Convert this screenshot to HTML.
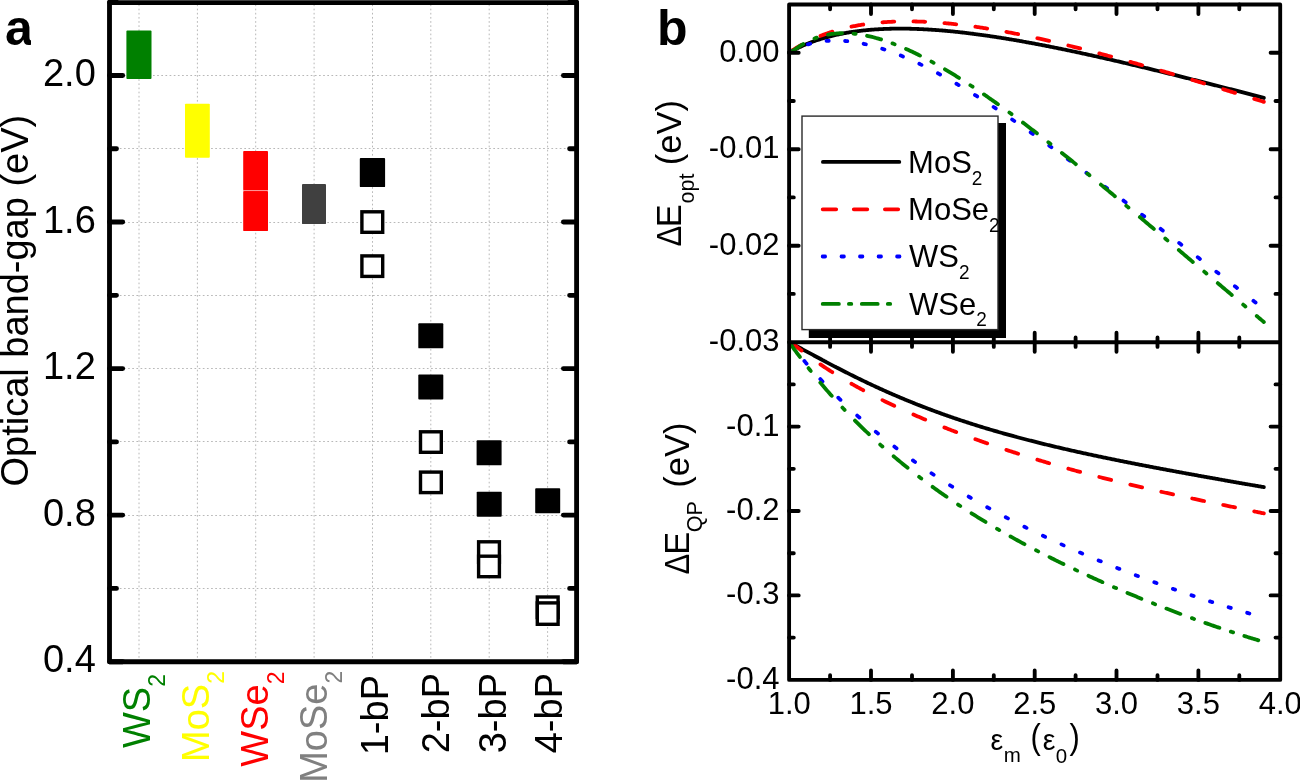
<!DOCTYPE html>
<html><head><meta charset="utf-8"><style>
html,body{margin:0;padding:0;background:#fff;}
svg{display:block;will-change:transform;}
text{font-family:"Liberation Sans",sans-serif;}
</style></head><body>
<svg width="1300" height="780" viewBox="0 0 1300 780" font-family="Liberation Sans, sans-serif">
<rect width="1300" height="780" fill="#fff"/>
<path d="M139.0,4.5V659.7 M197.4,4.5V659.7 M255.7,4.5V659.7 M314.1,4.5V659.7 M372.5,4.5V659.7 M430.8,4.5V659.7 M489.2,4.5V659.7 M547.6,4.5V659.7 M111.5,75.5H574.6 M111.5,148.5H574.6 M111.5,222.5H574.6 M111.5,295.5H574.6 M111.5,368.5H574.6 M111.5,441.5H574.6 M111.5,515.5H574.6 M111.5,588.5H574.6" stroke="#b8b8b8" stroke-width="1" stroke-dasharray="1.7 2.45" fill="none"/>
<rect x="126.4" y="30.5" width="25.1" height="48.5" rx="0.9" fill="#008000"/>
<rect x="185.0" y="103.7" width="24.8" height="54.0" rx="0.9" fill="#ffff00"/>
<rect x="243.2" y="150.9" width="24.8" height="39.4" rx="0.9" fill="#ff0000"/>
<rect x="243.2" y="190.9" width="24.8" height="40.2" rx="0.9" fill="#ff0000"/>
<line x1="243.2" x2="268" y1="190.6" y2="190.6" stroke="#ff8080" stroke-width="0.8"/>
<rect x="302.0" y="184.1" width="24.0" height="40.0" rx="0.9" fill="#404040"/>
<rect x="359.8" y="158.1" width="25.3" height="29.0" rx="0.9" fill="#000"/>
<rect x="361.9" y="211.8" width="20.8" height="20.5" fill="#fff" stroke="#000" stroke-width="3.4"/>
<rect x="361.9" y="255.9" width="20.8" height="20.5" fill="#fff" stroke="#000" stroke-width="3.4"/>
<rect x="418.3" y="323.3" width="25.0" height="25.0" rx="0.9" fill="#000"/>
<rect x="418.3" y="374.5" width="25.0" height="25.0" rx="0.9" fill="#000"/>
<rect x="420.5" y="431.8" width="20.8" height="20.5" fill="#fff" stroke="#000" stroke-width="3.4"/>
<rect x="420.5" y="472.1" width="20.8" height="20.5" fill="#fff" stroke="#000" stroke-width="3.4"/>
<rect x="476.6" y="440.3" width="25.0" height="25.0" rx="0.9" fill="#000"/>
<rect x="476.7" y="491.7" width="25.0" height="25.0" rx="0.9" fill="#000"/>
<rect x="478.6" y="541.8" width="20.8" height="20.5" fill="#fff" stroke="#000" stroke-width="3.4"/>
<rect x="478.6" y="556.2" width="20.8" height="20.5" fill="#fff" stroke="#000" stroke-width="3.4"/>
<rect x="535.2" y="488.2" width="25.0" height="25.0" rx="0.9" fill="#000"/>
<rect x="537.3" y="597.0" width="20.8" height="20.5" fill="#fff" stroke="#000" stroke-width="3.4"/>
<rect x="537.3" y="602.9" width="20.8" height="21.4" fill="#fff" stroke="#000" stroke-width="3.4"/>
<rect x="109.5" y="2.55" width="467.1" height="659.2" fill="none" stroke="#000" stroke-width="4.85" stroke-linejoin="round"/>
<path d="M109.5,2.2h7.0 M576.6,2.2h-7.0 M109.5,75.5h13.2 M576.6,75.5h-13.2 M109.5,148.7h7.0 M576.6,148.7h-7.0 M109.5,222.0h13.2 M576.6,222.0h-13.2 M109.5,295.3h7.0 M576.6,295.3h-7.0 M109.5,368.6h13.2 M576.6,368.6h-13.2 M109.5,441.9h7.0 M576.6,441.9h-7.0 M109.5,515.1h13.2 M576.6,515.1h-13.2 M109.5,588.4h7.0 M576.6,588.4h-7.0 M109.5,661.7h13.2 M576.6,661.7h-13.2" stroke="#000" stroke-width="4.85" stroke-linecap="round" fill="none"/>
<text transform="translate(95.8,86.0) scale(1,1.03)" text-anchor="end" font-size="38">2.0</text>
<text transform="translate(95.8,232.5) scale(1,1.03)" text-anchor="end" font-size="38">1.6</text>
<text transform="translate(95.8,379.1) scale(1,1.03)" text-anchor="end" font-size="38">1.2</text>
<text transform="translate(95.8,525.6) scale(1,1.03)" text-anchor="end" font-size="38">0.8</text>
<text transform="translate(95.8,672.2) scale(1,1.03)" text-anchor="end" font-size="38">0.4</text>
<text transform="translate(149.7,674.0) rotate(-90) scale(1,1.03)" text-anchor="end" font-size="38" fill="#008000">WS<tspan font-size="23" dy="15">2</tspan></text>
<text transform="translate(208.8,671.0) rotate(-90) scale(1,1.03)" text-anchor="end" font-size="38" fill="#ffff00">MoS<tspan font-size="23" dy="15">2</tspan></text>
<text transform="translate(268.4,671.5) rotate(-90) scale(1,1.03)" text-anchor="end" font-size="38" fill="#ff0000">WSe<tspan font-size="23" dy="15">2</tspan></text>
<text transform="translate(327.0,670.8) rotate(-90) scale(1,1.03)" text-anchor="end" font-size="38" fill="#808080">MoSe<tspan font-size="23" dy="15">2</tspan></text>
<text transform="translate(387.8,675.0) rotate(-90) scale(1,1.03)" text-anchor="end" font-size="38" fill="#000">1-bP</text>
<text transform="translate(449.0,673.0) rotate(-90) scale(1,1.03)" text-anchor="end" font-size="38" fill="#000">2-bP</text>
<text transform="translate(506.0,673.0) rotate(-90) scale(1,1.03)" text-anchor="end" font-size="38" fill="#000">3-bP</text>
<text transform="translate(562.0,673.0) rotate(-90) scale(1,1.03)" text-anchor="end" font-size="38" fill="#000">4-bP</text>
<text transform="translate(28,486.5) rotate(-90) scale(1,1.03)" font-size="38">Optical band-gap (eV)</text>
<clipPath id="ca"><rect x="0" y="0" width="30.9" height="60"/></clipPath>
<g clip-path="url(#ca)"><text x="5" y="45" font-size="50" font-weight="bold">a</text></g>
<path d="M789.20,52.60 L790.15,52.05 L791.10,51.52 L792.05,50.99 L793.00,50.47 L793.96,49.97 L794.91,49.47 L795.86,48.98 L796.81,48.50 L797.76,48.03 L798.71,47.57 L799.66,47.11 L800.61,46.67 L801.57,46.23 L802.52,45.80 L803.47,45.38 L804.42,44.97 L805.37,44.57 L806.32,44.17 L807.27,43.78 L808.22,43.39 L809.17,43.02 L810.13,42.65 L811.08,42.29 L812.03,41.93 L812.98,41.58 L813.93,41.24 L814.88,40.91 L815.83,40.58 L816.78,40.25 L817.74,39.94 L818.69,39.63 L819.64,39.32 L820.59,39.02 L821.54,38.73 L822.49,38.44 L823.44,38.16 L824.39,37.88 L825.35,37.61 L826.30,37.35 L827.25,37.09 L828.20,36.83 L829.15,36.58 L830.10,36.34 L831.05,36.10 L832.00,35.86 L832.95,35.63 L833.91,35.41 L834.86,35.18 L835.81,34.97 L836.76,34.76 L837.71,34.55 L838.66,34.35 L839.61,34.15 L840.56,33.96 L841.52,33.77 L842.47,33.58 L843.42,33.40 L844.37,33.22 L845.32,33.05 L846.27,32.88 L847.22,32.72 L848.17,32.55 L849.12,32.40 L850.08,32.24 L851.03,32.09 L851.98,31.95 L852.93,31.81 L853.88,31.67 L854.83,31.53 L855.78,31.40 L856.73,31.27 L857.69,31.15 L858.64,31.03 L859.59,30.91 L860.54,30.80 L861.49,30.69 L862.44,30.58 L863.39,30.48 L864.34,30.38 L865.30,30.28 L866.25,30.18 L867.20,30.09 L868.15,30.00 L869.10,29.92 L870.05,29.84 L871.00,29.76 L871.95,29.68 L872.90,29.61 L873.86,29.54 L874.81,29.47 L875.76,29.40 L876.71,29.34 L877.66,29.28 L878.61,29.23 L879.56,29.17 L880.51,29.12 L881.47,29.07 L882.42,29.03 L883.37,28.98 L884.32,28.94 L885.27,28.91 L886.22,28.87 L887.17,28.84 L888.12,28.81 L889.07,28.78 L890.03,28.75 L890.98,28.73 L891.93,28.71 L892.88,28.69 L893.83,28.68 L894.78,28.66 L895.73,28.65 L896.68,28.64 L897.64,28.63 L898.59,28.63 L899.54,28.63 L900.49,28.63 L901.44,28.63 L902.39,28.63 L903.34,28.64 L904.29,28.65 L905.24,28.66 L906.20,28.67 L907.15,28.68 L908.10,28.70 L909.05,28.72 L910.00,28.74 L910.95,28.76 L911.90,28.79 L912.85,28.81 L913.81,28.84 L914.76,28.87 L915.71,28.91 L916.66,28.94 L917.61,28.98 L918.56,29.01 L919.51,29.05 L920.46,29.09 L921.42,29.14 L922.37,29.18 L923.32,29.23 L924.27,29.28 L925.22,29.33 L926.17,29.38 L927.12,29.43 L928.07,29.49 L929.02,29.55 L929.98,29.61 L930.93,29.67 L931.88,29.73 L932.83,29.79 L933.78,29.86 L934.73,29.92 L935.68,29.99 L936.63,30.06 L937.59,30.13 L938.54,30.21 L939.49,30.28 L940.44,30.36 L941.39,30.44 L942.34,30.51 L943.29,30.59 L944.24,30.68 L945.19,30.76 L946.15,30.85 L947.10,30.93 L948.05,31.02 L949.00,31.11 L949.95,31.20 L950.90,31.29 L951.85,31.38 L952.80,31.48 L953.76,31.58 L954.71,31.67 L955.66,31.77 L956.61,31.87 L957.56,31.97 L958.51,32.08 L959.46,32.18 L960.41,32.28 L961.37,32.39 L962.32,32.50 L963.27,32.61 L964.22,32.72 L965.17,32.83 L966.12,32.94 L967.07,33.06 L968.02,33.17 L968.97,33.29 L969.93,33.40 L970.88,33.52 L971.83,33.64 L972.78,33.76 L973.73,33.88 L974.68,34.01 L975.63,34.13 L976.58,34.26 L977.54,34.38 L978.49,34.51 L979.44,34.64 L980.39,34.77 L981.34,34.90 L982.29,35.03 L983.24,35.16 L984.19,35.30 L985.14,35.43 L986.10,35.57 L987.05,35.70 L988.00,35.84 L988.95,35.98 L989.90,36.12 L990.85,36.26 L991.80,36.40 L992.75,36.55 L993.71,36.69 L994.66,36.83 L995.61,36.98 L996.56,37.13 L997.51,37.27 L998.46,37.42 L999.41,37.57 L1000.36,37.72 L1001.32,37.87 L1002.27,38.02 L1003.22,38.18 L1004.17,38.33 L1005.12,38.49 L1006.07,38.64 L1007.02,38.80 L1007.97,38.95 L1008.92,39.11 L1009.88,39.27 L1010.83,39.43 L1011.78,39.59 L1012.73,39.75 L1013.68,39.91 L1014.63,40.08 L1015.58,40.24 L1016.53,40.41 L1017.49,40.57 L1018.44,40.74 L1019.39,40.90 L1020.34,41.07 L1021.29,41.24 L1022.24,41.41 L1023.19,41.58 L1024.14,41.75 L1025.09,41.92 L1026.05,42.09 L1027.00,42.26 L1027.95,42.44 L1028.90,42.61 L1029.85,42.79 L1030.80,42.96 L1031.75,43.14 L1032.70,43.32 L1033.66,43.49 L1034.61,43.67 L1035.56,43.85 L1036.51,44.03 L1037.46,44.21 L1038.41,44.39 L1039.36,44.57 L1040.31,44.75 L1041.26,44.94 L1042.22,45.12 L1043.17,45.31 L1044.12,45.49 L1045.07,45.68 L1046.02,45.86 L1046.97,46.05 L1047.92,46.23 L1048.87,46.42 L1049.83,46.61 L1050.78,46.80 L1051.73,46.99 L1052.68,47.18 L1053.63,47.37 L1054.58,47.56 L1055.53,47.75 L1056.48,47.95 L1057.44,48.14 L1058.39,48.33 L1059.34,48.53 L1060.29,48.72 L1061.24,48.92 L1062.19,49.11 L1063.14,49.31 L1064.09,49.50 L1065.04,49.70 L1066.00,49.90 L1066.95,50.10 L1067.90,50.30 L1068.85,50.50 L1069.80,50.70 L1070.75,50.90 L1071.70,51.10 L1072.65,51.30 L1073.61,51.50 L1074.56,51.70 L1075.51,51.90 L1076.46,52.11 L1077.41,52.31 L1078.36,52.51 L1079.31,52.72 L1080.26,52.92 L1081.21,53.13 L1082.17,53.34 L1083.12,53.54 L1084.07,53.75 L1085.02,53.96 L1085.97,54.16 L1086.92,54.37 L1087.87,54.58 L1088.82,54.79 L1089.78,55.00 L1090.73,55.21 L1091.68,55.42 L1092.63,55.63 L1093.58,55.84 L1094.53,56.05 L1095.48,56.26 L1096.43,56.47 L1097.39,56.69 L1098.34,56.90 L1099.29,57.11 L1100.24,57.33 L1101.19,57.54 L1102.14,57.76 L1103.09,57.97 L1104.04,58.19 L1104.99,58.40 L1105.95,58.62 L1106.90,58.83 L1107.85,59.05 L1108.80,59.27 L1109.75,59.48 L1110.70,59.70 L1111.65,59.92 L1112.60,60.14 L1113.56,60.36 L1114.51,60.58 L1115.46,60.80 L1116.41,61.02 L1117.36,61.24 L1118.31,61.46 L1119.26,61.68 L1120.21,61.90 L1121.16,62.12 L1122.12,62.34 L1123.07,62.56 L1124.02,62.79 L1124.97,63.01 L1125.92,63.23 L1126.87,63.45 L1127.82,63.68 L1128.77,63.90 L1129.73,64.13 L1130.68,64.35 L1131.63,64.58 L1132.58,64.80 L1133.53,65.03 L1134.48,65.25 L1135.43,65.48 L1136.38,65.70 L1137.33,65.93 L1138.29,66.16 L1139.24,66.38 L1140.19,66.61 L1141.14,66.84 L1142.09,67.07 L1143.04,67.29 L1143.99,67.52 L1144.94,67.75 L1145.90,67.98 L1146.85,68.21 L1147.80,68.44 L1148.75,68.67 L1149.70,68.90 L1150.65,69.13 L1151.60,69.36 L1152.55,69.59 L1153.51,69.82 L1154.46,70.05 L1155.41,70.28 L1156.36,70.51 L1157.31,70.75 L1158.26,70.98 L1159.21,71.21 L1160.16,71.44 L1161.11,71.68 L1162.07,71.91 L1163.02,72.14 L1163.97,72.38 L1164.92,72.61 L1165.87,72.84 L1166.82,73.08 L1167.77,73.31 L1168.72,73.55 L1169.68,73.78 L1170.63,74.02 L1171.58,74.25 L1172.53,74.49 L1173.48,74.72 L1174.43,74.96 L1175.38,75.20 L1176.33,75.43 L1177.28,75.67 L1178.24,75.90 L1179.19,76.14 L1180.14,76.38 L1181.09,76.62 L1182.04,76.85 L1182.99,77.09 L1183.94,77.33 L1184.89,77.57 L1185.85,77.81 L1186.80,78.04 L1187.75,78.28 L1188.70,78.52 L1189.65,78.76 L1190.60,79.00 L1191.55,79.24 L1192.50,79.48 L1193.46,79.72 L1194.41,79.96 L1195.36,80.20 L1196.31,80.44 L1197.26,80.68 L1198.21,80.92 L1199.16,81.16 L1200.11,81.40 L1201.06,81.64 L1202.02,81.89 L1202.97,82.13 L1203.92,82.37 L1204.87,82.61 L1205.82,82.85 L1206.77,83.10 L1207.72,83.34 L1208.67,83.58 L1209.63,83.82 L1210.58,84.07 L1211.53,84.31 L1212.48,84.55 L1213.43,84.80 L1214.38,85.04 L1215.33,85.29 L1216.28,85.53 L1217.23,85.77 L1218.19,86.02 L1219.14,86.26 L1220.09,86.51 L1221.04,86.75 L1221.99,87.00 L1222.94,87.24 L1223.89,87.49 L1224.84,87.74 L1225.80,87.98 L1226.75,88.23 L1227.70,88.47 L1228.65,88.72 L1229.60,88.97 L1230.55,89.21 L1231.50,89.46 L1232.45,89.71 L1233.40,89.95 L1234.36,90.20 L1235.31,90.45 L1236.26,90.70 L1237.21,90.94 L1238.16,91.19 L1239.11,91.44 L1240.06,91.69 L1241.01,91.94 L1241.97,92.19 L1242.92,92.43 L1243.87,92.68 L1244.82,92.93 L1245.77,93.18 L1246.72,93.43 L1247.67,93.68 L1248.62,93.93 L1249.58,94.18 L1250.53,94.43 L1251.48,94.68 L1252.43,94.93 L1253.38,95.18 L1254.33,95.43 L1255.28,95.68 L1256.23,95.93 L1257.18,96.19 L1258.14,96.44 L1259.09,96.69 L1260.04,96.94 L1260.99,97.19 L1261.94,97.45 L1262.89,97.70 L1263.84,97.95" stroke="#000" stroke-width="3.8" fill="none" stroke-linecap="round" stroke-linejoin="round"/>
<path d="M789.50,52.39 L790.57,51.64 L791.65,50.91 L792.72,50.20 L793.79,49.50 L794.86,48.81 L795.94,48.13 L797.01,47.47 L798.08,46.82 L799.15,46.19 L800.23,45.57 L801.30,44.95 M820.48,35.83 L821.55,35.41 L822.63,35.00 L823.70,34.60 L824.77,34.20 L825.84,33.81 L826.92,33.44 L827.99,33.06 L829.06,32.70 L830.13,32.34 L831.21,31.99 L832.28,31.65 M851.46,26.67 L852.53,26.45 L853.61,26.24 L854.68,26.03 L855.75,25.82 L856.82,25.62 L857.90,25.43 L858.97,25.24 L860.04,25.06 L861.11,24.88 L862.19,24.71 L863.26,24.54 M882.44,22.33 L883.51,22.25 L884.59,22.17 L885.66,22.10 L886.73,22.03 L887.80,21.96 L888.88,21.90 L889.95,21.84 L891.02,21.78 L892.09,21.73 L893.17,21.69 L894.24,21.64 M913.42,21.43 L914.49,21.45 L915.57,21.48 L916.64,21.50 L917.71,21.53 L918.78,21.56 L919.86,21.59 L920.93,21.63 L922.00,21.67 L923.07,21.71 L924.15,21.76 L925.22,21.80 M944.40,23.10 L945.47,23.20 L946.55,23.30 L947.62,23.40 L948.69,23.50 L949.76,23.61 L950.84,23.71 L951.91,23.82 L952.98,23.93 L954.05,24.05 L955.13,24.16 L956.20,24.28 M975.38,26.74 L976.45,26.89 L977.53,27.05 L978.60,27.21 L979.67,27.37 L980.74,27.53 L981.82,27.70 L982.89,27.86 L983.96,28.03 L985.03,28.20 L986.11,28.37 L987.18,28.54 M1006.36,31.89 L1007.43,32.09 L1008.51,32.30 L1009.58,32.50 L1010.65,32.71 L1011.72,32.91 L1012.80,33.12 L1013.87,33.33 L1014.94,33.54 L1016.01,33.75 L1017.09,33.97 L1018.16,34.18 M1037.34,38.23 L1038.41,38.47 L1039.49,38.70 L1040.56,38.94 L1041.63,39.18 L1042.70,39.42 L1043.78,39.67 L1044.85,39.91 L1045.92,40.15 L1046.99,40.40 L1048.07,40.65 L1049.14,40.89 M1068.32,45.47 L1069.39,45.74 L1070.47,46.00 L1071.54,46.27 L1072.61,46.54 L1073.68,46.81 L1074.76,47.07 L1075.83,47.34 L1076.90,47.61 L1077.97,47.88 L1079.05,48.16 L1080.12,48.43 M1099.30,53.42 L1100.37,53.70 L1101.45,53.99 L1102.52,54.28 L1103.59,54.56 L1104.66,54.85 L1105.74,55.14 L1106.81,55.43 L1107.88,55.72 L1108.95,56.01 L1110.03,56.30 L1111.10,56.59 M1130.28,61.89 L1131.35,62.19 L1132.43,62.49 L1133.50,62.79 L1134.57,63.09 L1135.64,63.39 L1136.72,63.70 L1137.79,64.00 L1138.86,64.31 L1139.93,64.61 L1141.01,64.92 L1142.08,65.22 M1161.26,70.75 L1162.33,71.06 L1163.41,71.37 L1164.48,71.69 L1165.55,72.00 L1166.62,72.31 L1167.70,72.63 L1168.77,72.94 L1169.84,73.26 L1170.91,73.57 L1171.99,73.89 L1173.06,74.20 M1192.24,79.90 L1193.31,80.22 L1194.39,80.54 L1195.46,80.87 L1196.53,81.19 L1197.60,81.51 L1198.68,81.83 L1199.75,82.15 L1200.82,82.48 L1201.89,82.80 L1202.97,83.12 L1204.04,83.45 M1223.22,89.28 L1224.29,89.60 L1225.37,89.93 L1226.44,90.26 L1227.51,90.59 L1228.58,90.92 L1229.66,91.25 L1230.73,91.58 L1231.80,91.91 L1232.87,92.24 L1233.95,92.57 L1235.02,92.90 M1254.20,98.83 L1255.08,99.10 L1255.95,99.38 L1256.83,99.65 L1257.71,99.92 L1258.58,100.19 L1259.46,100.47 L1260.34,100.74 L1261.21,101.01 L1262.09,101.29 L1262.97,101.56 L1263.84,101.84" stroke="#f00" stroke-width="3.8" fill="none" stroke-linecap="round" stroke-linejoin="round"/>
<path d="M789.40,52.48 L790.50,51.84 L791.60,51.22 M807.96,44.38 L809.06,44.06 L810.16,43.75 M826.52,40.93 L827.62,40.85 L828.72,40.77 M845.08,40.99 L846.18,41.08 L847.28,41.19 M863.64,43.78 L864.74,44.02 L865.84,44.27 M882.20,48.77 L883.30,49.13 L884.40,49.49 M900.76,55.56 L901.86,56.01 L902.96,56.46 M919.32,63.81 L920.42,64.34 L921.52,64.87 M937.88,73.28 L938.98,73.87 L940.08,74.47 M956.44,83.74 L957.54,84.39 L958.64,85.04 M975.00,95.03 L976.10,95.72 L977.20,96.41 M993.56,106.98 L994.66,107.70 L995.76,108.43 M1012.12,119.46 L1013.22,120.22 L1014.32,120.97 M1030.68,132.38 L1031.78,133.15 L1032.88,133.93 M1049.24,145.62 L1050.34,146.42 L1051.44,147.21 M1067.80,159.13 L1068.90,159.94 L1070.00,160.74 M1086.36,172.83 L1087.46,173.65 L1088.56,174.46 M1104.92,186.68 L1106.02,187.50 L1107.12,188.33 M1123.48,200.63 L1124.58,201.46 L1125.68,202.29 M1142.04,214.68 L1143.14,215.51 L1144.24,216.35 M1160.60,228.80 L1161.70,229.64 L1162.80,230.48 M1179.16,242.99 L1180.26,243.83 L1181.36,244.68 M1197.72,257.26 L1198.82,258.11 L1199.92,258.96 M1216.28,271.64 L1217.38,272.50 L1218.48,273.35 M1234.84,286.16 L1235.94,287.02 L1237.04,287.89 M1253.40,300.85 L1254.50,301.72 L1255.60,302.60" stroke="#00f" stroke-width="3.8" fill="none" stroke-linecap="round" stroke-linejoin="round"/>
<path d="M789.20,52.40 L790.46,52.42 L791.73,51.63 L792.99,50.76 L794.25,49.86 L795.52,48.96 L796.78,48.08 L798.05,47.21 L799.31,46.37 L800.57,45.56 L801.84,44.77 L803.10,44.01 M828.07,34.57 L829.34,34.35 L830.62,34.14 L831.89,33.96 L833.16,33.80 L834.43,33.65 L835.71,33.53 L836.98,33.42 L838.25,33.34 L839.52,33.27 L840.80,33.23 L842.07,33.20 M867.04,35.79 L868.31,36.06 L869.59,36.35 L870.86,36.65 L872.13,36.96 L873.40,37.28 L874.68,37.61 L875.95,37.96 L877.22,38.31 L878.49,38.68 L879.77,39.05 L881.04,39.44 M906.01,48.92 L907.28,49.49 L908.56,50.07 L909.83,50.65 L911.10,51.24 L912.37,51.84 L913.65,52.45 L914.92,53.06 L916.19,53.68 L917.46,54.30 L918.74,54.94 L920.01,55.58 M944.98,69.32 L946.25,70.07 L947.53,70.83 L948.80,71.60 L950.07,72.37 L951.34,73.14 L952.62,73.92 L953.89,74.71 L955.16,75.49 L956.43,76.29 L957.71,77.08 L958.98,77.89 M983.95,94.40 L985.22,95.28 L986.50,96.16 L987.77,97.05 L989.04,97.94 L990.31,98.83 L991.59,99.72 L992.86,100.62 L994.13,101.52 L995.40,102.42 L996.68,103.33 L997.95,104.24 M1022.92,122.61 L1024.19,123.57 L1025.47,124.54 L1026.74,125.50 L1028.01,126.47 L1029.28,127.44 L1030.56,128.41 L1031.83,129.39 L1033.10,130.36 L1034.37,131.34 L1035.65,132.32 L1036.92,133.30 M1061.89,152.92 L1063.16,153.93 L1064.44,154.95 L1065.71,155.97 L1066.98,156.99 L1068.25,158.01 L1069.53,159.03 L1070.80,160.06 L1072.07,161.08 L1073.34,162.11 L1074.62,163.14 L1075.89,164.17 M1100.86,184.59 L1102.13,185.64 L1103.41,186.69 L1104.68,187.74 L1105.95,188.80 L1107.22,189.85 L1108.50,190.91 L1109.77,191.96 L1111.04,193.02 L1112.31,194.08 L1113.59,195.14 L1114.86,196.20 M1139.83,217.10 L1141.10,218.17 L1142.38,219.25 L1143.65,220.32 L1144.92,221.39 L1146.19,222.46 L1147.47,223.54 L1148.74,224.61 L1150.01,225.68 L1151.28,226.76 L1152.56,227.83 L1153.83,228.91 M1178.80,250.05 L1180.07,251.13 L1181.35,252.21 L1182.62,253.29 L1183.89,254.37 L1185.16,255.45 L1186.44,256.53 L1187.71,257.61 L1188.98,258.69 L1190.25,259.77 L1191.53,260.85 L1192.80,261.93 M1217.77,283.12 L1219.04,284.20 L1220.32,285.28 L1221.59,286.35 L1222.86,287.43 L1224.13,288.51 L1225.41,289.59 L1226.68,290.67 L1227.95,291.74 L1229.22,292.82 L1230.50,293.90 L1231.77,294.97 M1256.74,316.04 L1257.39,316.58 L1258.03,317.12 L1258.68,317.67 L1259.32,318.21 L1259.97,318.75 L1260.61,319.29 L1261.26,319.84 L1261.91,320.38 L1262.55,320.92 L1263.20,321.46 L1263.84,322.00" stroke="#008000" stroke-width="3.8" fill="none" stroke-linecap="round" stroke-linejoin="round"/>
<path d="M814.50,38.44 L815.60,38.02 L816.70,37.62 M853.47,33.67 L854.57,33.79 L855.67,33.91 M892.44,43.35 L893.54,43.76 L894.64,44.19 M931.41,61.58 L932.51,62.18 L933.61,62.79 M970.38,85.25 L971.48,85.97 L972.58,86.70 M1009.35,112.51 L1010.45,113.32 L1011.55,114.13 M1048.32,142.18 L1049.42,143.04 L1050.52,143.91 M1087.29,173.44 L1088.39,174.34 L1089.49,175.24 M1126.26,205.71 L1127.36,206.63 L1128.46,207.56 M1165.23,238.55 L1166.33,239.48 L1167.43,240.41 M1204.20,271.61 L1205.30,272.54 L1206.40,273.47 M1243.17,304.61 L1244.27,305.53 L1245.37,306.46" stroke="#008000" stroke-width="3.8" fill="none" stroke-linecap="round" stroke-linejoin="round"/>
<path d="M789.20,342.20 L790.15,342.70 L791.10,343.20 L792.05,343.71 L793.00,344.21 L793.96,344.72 L794.91,345.22 L795.86,345.73 L796.81,346.24 L797.76,346.75 L798.71,347.26 L799.66,347.77 L800.61,348.28 L801.57,348.79 L802.52,349.31 L803.47,349.82 L804.42,350.33 L805.37,350.84 L806.32,351.36 L807.27,351.87 L808.22,352.38 L809.17,352.90 L810.13,353.41 L811.08,353.92 L812.03,354.43 L812.98,354.95 L813.93,355.46 L814.88,355.97 L815.83,356.48 L816.78,356.99 L817.74,357.50 L818.69,358.01 L819.64,358.52 L820.59,359.03 L821.54,359.54 L822.49,360.05 L823.44,360.55 L824.39,361.06 L825.35,361.56 L826.30,362.07 L827.25,362.57 L828.20,363.08 L829.15,363.58 L830.10,364.08 L831.05,364.58 L832.00,365.08 L832.95,365.58 L833.91,366.07 L834.86,366.57 L835.81,367.06 L836.76,367.56 L837.71,368.05 L838.66,368.54 L839.61,369.03 L840.56,369.52 L841.52,370.01 L842.47,370.50 L843.42,370.98 L844.37,371.47 L845.32,371.95 L846.27,372.44 L847.22,372.92 L848.17,373.40 L849.12,373.88 L850.08,374.35 L851.03,374.83 L851.98,375.30 L852.93,375.78 L853.88,376.25 L854.83,376.72 L855.78,377.19 L856.73,377.66 L857.69,378.12 L858.64,378.59 L859.59,379.05 L860.54,379.52 L861.49,379.98 L862.44,380.44 L863.39,380.90 L864.34,381.35 L865.30,381.81 L866.25,382.26 L867.20,382.72 L868.15,383.17 L869.10,383.62 L870.05,384.07 L871.00,384.51 L871.95,384.96 L872.90,385.40 L873.86,385.85 L874.81,386.29 L875.76,386.73 L876.71,387.17 L877.66,387.60 L878.61,388.04 L879.56,388.47 L880.51,388.91 L881.47,389.34 L882.42,389.77 L883.37,390.20 L884.32,390.62 L885.27,391.05 L886.22,391.47 L887.17,391.89 L888.12,392.31 L889.07,392.73 L890.03,393.15 L890.98,393.57 L891.93,393.98 L892.88,394.40 L893.83,394.81 L894.78,395.22 L895.73,395.63 L896.68,396.04 L897.64,396.44 L898.59,396.85 L899.54,397.25 L900.49,397.65 L901.44,398.05 L902.39,398.45 L903.34,398.85 L904.29,399.25 L905.24,399.64 L906.20,400.03 L907.15,400.43 L908.10,400.82 L909.05,401.20 L910.00,401.59 L910.95,401.98 L911.90,402.36 L912.85,402.75 L913.81,403.13 L914.76,403.51 L915.71,403.89 L916.66,404.26 L917.61,404.64 L918.56,405.02 L919.51,405.39 L920.46,405.76 L921.42,406.13 L922.37,406.50 L923.32,406.87 L924.27,407.23 L925.22,407.60 L926.17,407.96 L927.12,408.33 L928.07,408.69 L929.02,409.05 L929.98,409.40 L930.93,409.76 L931.88,410.12 L932.83,410.47 L933.78,410.82 L934.73,411.17 L935.68,411.52 L936.63,411.87 L937.59,412.22 L938.54,412.57 L939.49,412.91 L940.44,413.26 L941.39,413.60 L942.34,413.94 L943.29,414.28 L944.24,414.62 L945.19,414.95 L946.15,415.29 L947.10,415.62 L948.05,415.96 L949.00,416.29 L949.95,416.62 L950.90,416.95 L951.85,417.28 L952.80,417.61 L953.76,417.93 L954.71,418.26 L955.66,418.58 L956.61,418.90 L957.56,419.22 L958.51,419.54 L959.46,419.86 L960.41,420.18 L961.37,420.49 L962.32,420.81 L963.27,421.12 L964.22,421.43 L965.17,421.75 L966.12,422.06 L967.07,422.36 L968.02,422.67 L968.97,422.98 L969.93,423.28 L970.88,423.59 L971.83,423.89 L972.78,424.19 L973.73,424.50 L974.68,424.80 L975.63,425.09 L976.58,425.39 L977.54,425.69 L978.49,425.98 L979.44,426.28 L980.39,426.57 L981.34,426.86 L982.29,427.16 L983.24,427.45 L984.19,427.73 L985.14,428.02 L986.10,428.31 L987.05,428.60 L988.00,428.88 L988.95,429.16 L989.90,429.45 L990.85,429.73 L991.80,430.01 L992.75,430.29 L993.71,430.57 L994.66,430.85 L995.61,431.12 L996.56,431.40 L997.51,431.67 L998.46,431.95 L999.41,432.22 L1000.36,432.49 L1001.32,432.76 L1002.27,433.03 L1003.22,433.30 L1004.17,433.57 L1005.12,433.84 L1006.07,434.10 L1007.02,434.37 L1007.97,434.63 L1008.92,434.90 L1009.88,435.16 L1010.83,435.42 L1011.78,435.68 L1012.73,435.94 L1013.68,436.20 L1014.63,436.46 L1015.58,436.71 L1016.53,436.97 L1017.49,437.23 L1018.44,437.48 L1019.39,437.73 L1020.34,437.99 L1021.29,438.24 L1022.24,438.49 L1023.19,438.74 L1024.14,438.99 L1025.09,439.24 L1026.05,439.49 L1027.00,439.73 L1027.95,439.98 L1028.90,440.23 L1029.85,440.47 L1030.80,440.71 L1031.75,440.96 L1032.70,441.20 L1033.66,441.44 L1034.61,441.68 L1035.56,441.92 L1036.51,442.16 L1037.46,442.40 L1038.41,442.64 L1039.36,442.87 L1040.31,443.11 L1041.26,443.35 L1042.22,443.58 L1043.17,443.82 L1044.12,444.05 L1045.07,444.28 L1046.02,444.51 L1046.97,444.74 L1047.92,444.98 L1048.87,445.21 L1049.83,445.43 L1050.78,445.66 L1051.73,445.89 L1052.68,446.12 L1053.63,446.34 L1054.58,446.57 L1055.53,446.80 L1056.48,447.02 L1057.44,447.24 L1058.39,447.47 L1059.34,447.69 L1060.29,447.91 L1061.24,448.13 L1062.19,448.35 L1063.14,448.57 L1064.09,448.79 L1065.04,449.01 L1066.00,449.23 L1066.95,449.45 L1067.90,449.67 L1068.85,449.88 L1069.80,450.10 L1070.75,450.31 L1071.70,450.53 L1072.65,450.74 L1073.61,450.96 L1074.56,451.17 L1075.51,451.38 L1076.46,451.59 L1077.41,451.81 L1078.36,452.02 L1079.31,452.23 L1080.26,452.44 L1081.21,452.65 L1082.17,452.86 L1083.12,453.06 L1084.07,453.27 L1085.02,453.48 L1085.97,453.69 L1086.92,453.89 L1087.87,454.10 L1088.82,454.30 L1089.78,454.51 L1090.73,454.71 L1091.68,454.92 L1092.63,455.12 L1093.58,455.32 L1094.53,455.52 L1095.48,455.73 L1096.43,455.93 L1097.39,456.13 L1098.34,456.33 L1099.29,456.53 L1100.24,456.73 L1101.19,456.93 L1102.14,457.13 L1103.09,457.33 L1104.04,457.52 L1104.99,457.72 L1105.95,457.92 L1106.90,458.12 L1107.85,458.31 L1108.80,458.51 L1109.75,458.70 L1110.70,458.90 L1111.65,459.09 L1112.60,459.29 L1113.56,459.48 L1114.51,459.68 L1115.46,459.87 L1116.41,460.06 L1117.36,460.25 L1118.31,460.45 L1119.26,460.64 L1120.21,460.83 L1121.16,461.02 L1122.12,461.21 L1123.07,461.40 L1124.02,461.59 L1124.97,461.78 L1125.92,461.97 L1126.87,462.16 L1127.82,462.35 L1128.77,462.54 L1129.73,462.72 L1130.68,462.91 L1131.63,463.10 L1132.58,463.29 L1133.53,463.47 L1134.48,463.66 L1135.43,463.85 L1136.38,464.03 L1137.33,464.22 L1138.29,464.40 L1139.24,464.59 L1140.19,464.77 L1141.14,464.96 L1142.09,465.14 L1143.04,465.32 L1143.99,465.51 L1144.94,465.69 L1145.90,465.87 L1146.85,466.06 L1147.80,466.24 L1148.75,466.42 L1149.70,466.60 L1150.65,466.78 L1151.60,466.96 L1152.55,467.15 L1153.51,467.33 L1154.46,467.51 L1155.41,467.69 L1156.36,467.87 L1157.31,468.05 L1158.26,468.23 L1159.21,468.41 L1160.16,468.59 L1161.11,468.76 L1162.07,468.94 L1163.02,469.12 L1163.97,469.30 L1164.92,469.48 L1165.87,469.66 L1166.82,469.83 L1167.77,470.01 L1168.72,470.19 L1169.68,470.36 L1170.63,470.54 L1171.58,470.72 L1172.53,470.89 L1173.48,471.07 L1174.43,471.25 L1175.38,471.42 L1176.33,471.60 L1177.28,471.77 L1178.24,471.95 L1179.19,472.12 L1180.14,472.30 L1181.09,472.47 L1182.04,472.65 L1182.99,472.82 L1183.94,473.00 L1184.89,473.17 L1185.85,473.34 L1186.80,473.52 L1187.75,473.69 L1188.70,473.86 L1189.65,474.04 L1190.60,474.21 L1191.55,474.38 L1192.50,474.56 L1193.46,474.73 L1194.41,474.90 L1195.36,475.07 L1196.31,475.24 L1197.26,475.42 L1198.21,475.59 L1199.16,475.76 L1200.11,475.93 L1201.06,476.10 L1202.02,476.27 L1202.97,476.44 L1203.92,476.61 L1204.87,476.79 L1205.82,476.96 L1206.77,477.13 L1207.72,477.30 L1208.67,477.47 L1209.63,477.64 L1210.58,477.81 L1211.53,477.98 L1212.48,478.15 L1213.43,478.32 L1214.38,478.48 L1215.33,478.65 L1216.28,478.82 L1217.23,478.99 L1218.19,479.16 L1219.14,479.33 L1220.09,479.50 L1221.04,479.67 L1221.99,479.83 L1222.94,480.00 L1223.89,480.17 L1224.84,480.34 L1225.80,480.51 L1226.75,480.67 L1227.70,480.84 L1228.65,481.01 L1229.60,481.18 L1230.55,481.34 L1231.50,481.51 L1232.45,481.68 L1233.40,481.85 L1234.36,482.01 L1235.31,482.18 L1236.26,482.35 L1237.21,482.51 L1238.16,482.68 L1239.11,482.84 L1240.06,483.01 L1241.01,483.18 L1241.97,483.34 L1242.92,483.51 L1243.87,483.67 L1244.82,483.84 L1245.77,484.01 L1246.72,484.17 L1247.67,484.34 L1248.62,484.50 L1249.58,484.67 L1250.53,484.83 L1251.48,485.00 L1252.43,485.16 L1253.38,485.32 L1254.33,485.49 L1255.28,485.65 L1256.23,485.82 L1257.18,485.98 L1258.14,486.15 L1259.09,486.31 L1260.04,486.47 L1260.99,486.64 L1261.94,486.80 L1262.89,486.96 L1263.84,487.13" stroke="#000" stroke-width="3.8" fill="none" stroke-linecap="round" stroke-linejoin="round"/>
<path d="M789.20,342.20 L790.32,342.25 L791.44,342.94 L792.55,343.72 L793.67,344.55 L794.79,345.39 L795.91,346.25 L797.03,347.12 L798.15,347.98 L799.26,348.85 L800.38,349.71 L801.50,350.58 M820.48,364.42 L821.55,365.15 L822.63,365.88 L823.70,366.60 L824.77,367.32 L825.84,368.03 L826.92,368.74 L827.99,369.44 L829.06,370.14 L830.13,370.83 L831.21,371.52 L832.28,372.20 M851.46,383.74 L852.53,384.35 L853.61,384.95 L854.68,385.56 L855.75,386.16 L856.82,386.75 L857.90,387.35 L858.97,387.94 L860.04,388.52 L861.11,389.11 L862.19,389.69 L863.26,390.27 M882.44,400.14 L883.51,400.67 L884.59,401.19 L885.66,401.72 L886.73,402.24 L887.80,402.76 L888.88,403.27 L889.95,403.79 L891.02,404.30 L892.09,404.81 L893.17,405.32 L894.24,405.83 M913.42,414.54 L914.49,415.01 L915.57,415.48 L916.64,415.95 L917.71,416.41 L918.78,416.87 L919.86,417.33 L920.93,417.79 L922.00,418.25 L923.07,418.71 L924.15,419.16 L925.22,419.62 M944.40,427.46 L945.47,427.88 L946.55,428.30 L947.62,428.73 L948.69,429.15 L949.76,429.57 L950.84,429.98 L951.91,430.40 L952.98,430.81 L954.05,431.23 L955.13,431.64 L956.20,432.05 M975.38,439.18 L976.45,439.56 L977.53,439.95 L978.60,440.33 L979.67,440.72 L980.74,441.10 L981.82,441.48 L982.89,441.86 L983.96,442.24 L985.03,442.62 L986.11,442.99 L987.18,443.37 M1006.36,449.88 L1007.43,450.24 L1008.51,450.59 L1009.58,450.94 L1010.65,451.29 L1011.72,451.64 L1012.80,451.99 L1013.87,452.34 L1014.94,452.68 L1016.01,453.03 L1017.09,453.37 L1018.16,453.72 M1037.34,459.69 L1038.41,460.01 L1039.49,460.34 L1040.56,460.66 L1041.63,460.98 L1042.70,461.30 L1043.78,461.62 L1044.85,461.94 L1045.92,462.26 L1046.99,462.58 L1048.07,462.89 L1049.14,463.21 M1068.32,468.69 L1069.39,468.99 L1070.47,469.29 L1071.54,469.58 L1072.61,469.88 L1073.68,470.18 L1074.76,470.47 L1075.83,470.76 L1076.90,471.06 L1077.97,471.35 L1079.05,471.64 L1080.12,471.93 M1099.30,476.98 L1100.37,477.25 L1101.45,477.53 L1102.52,477.80 L1103.59,478.07 L1104.66,478.35 L1105.74,478.62 L1106.81,478.89 L1107.88,479.16 L1108.95,479.43 L1110.03,479.70 L1111.10,479.96 M1130.28,484.64 L1131.35,484.89 L1132.43,485.15 L1133.50,485.40 L1134.57,485.65 L1135.64,485.91 L1136.72,486.16 L1137.79,486.41 L1138.86,486.66 L1139.93,486.91 L1141.01,487.16 L1142.08,487.41 M1161.26,491.78 L1162.33,492.01 L1163.41,492.25 L1164.48,492.49 L1165.55,492.73 L1166.62,492.97 L1167.70,493.20 L1168.77,493.44 L1169.84,493.68 L1170.91,493.91 L1171.99,494.15 L1173.06,494.38 M1192.24,498.51 L1193.31,498.74 L1194.39,498.97 L1195.46,499.20 L1196.53,499.42 L1197.60,499.65 L1198.68,499.87 L1199.75,500.10 L1200.82,500.33 L1201.89,500.55 L1202.97,500.78 L1204.04,501.00 M1223.22,504.99 L1224.29,505.21 L1225.37,505.44 L1226.44,505.66 L1227.51,505.88 L1228.58,506.10 L1229.66,506.32 L1230.73,506.54 L1231.80,506.76 L1232.87,506.98 L1233.95,507.21 L1235.02,507.43 M1254.20,511.38 L1255.08,511.56 L1255.95,511.74 L1256.83,511.93 L1257.71,512.11 L1258.58,512.29 L1259.46,512.47 L1260.34,512.65 L1261.21,512.83 L1262.09,513.02 L1262.97,513.20 L1263.84,513.38" stroke="#f00" stroke-width="3.8" fill="none" stroke-linecap="round" stroke-linejoin="round"/>
<path d="M789.40,342.46 L790.50,343.89 L791.60,345.30 M804.40,361.06 L805.50,362.36 L806.60,363.65 M820.30,379.06 L821.40,380.25 L822.50,381.43 M838.30,397.69 L839.40,398.77 L840.50,399.85 M857.20,415.56 L858.30,416.56 L859.40,417.54 M875.77,431.69 L876.87,432.61 L877.97,433.52 M894.34,446.59 L895.44,447.44 L896.54,448.28 M912.91,460.41 L914.01,461.20 L915.11,461.98 M931.48,473.28 L932.58,474.02 L933.68,474.75 M950.05,485.31 L951.15,486.00 L952.25,486.69 M968.62,496.60 L969.72,497.25 L970.82,497.89 M987.19,507.22 L988.29,507.83 L989.39,508.44 M1005.76,517.25 L1006.86,517.83 L1007.96,518.40 M1024.33,526.75 L1025.43,527.30 L1026.53,527.84 M1042.90,535.78 L1044.00,536.30 L1045.10,536.82 M1061.47,544.38 L1062.57,544.88 L1063.67,545.37 M1080.04,552.60 L1081.14,553.07 L1082.24,553.54 M1098.61,560.46 L1099.71,560.91 L1100.81,561.37 M1117.18,568.00 L1118.28,568.44 L1119.38,568.87 M1135.75,575.24 L1136.85,575.66 L1137.95,576.08 M1154.32,582.19 L1155.42,582.59 L1156.52,582.99 M1172.89,588.86 L1173.99,589.25 L1175.09,589.64 M1191.46,595.27 L1192.56,595.64 L1193.66,596.01 M1210.03,601.40 L1211.13,601.76 L1212.23,602.11 M1228.60,607.25 L1229.70,607.59 L1230.80,607.93 M1247.17,612.81 L1248.27,613.13 L1249.37,613.45" stroke="#00f" stroke-width="3.8" fill="none" stroke-linecap="round" stroke-linejoin="round"/>
<path d="M789.20,342.20 L790.17,343.58 L791.15,344.95 L792.12,346.32 L793.09,347.67 L794.06,349.02 L795.04,350.36 L796.01,351.69 L796.98,353.01 L797.95,354.33 L798.93,355.64 L799.90,356.94 M820.30,382.64 L821.34,383.88 L822.37,385.10 L823.41,386.32 L824.45,387.53 L825.48,388.74 L826.52,389.94 L827.55,391.13 L828.59,392.32 L829.63,393.50 L830.66,394.67 L831.70,395.84 M855.00,420.61 L856.26,421.87 L857.53,423.13 L858.79,424.39 L860.05,425.63 L861.32,426.87 L862.58,428.10 L863.85,429.32 L865.11,430.54 L866.37,431.75 L867.64,432.95 L868.90,434.15 M893.60,456.25 L894.87,457.33 L896.15,458.40 L897.42,459.47 L898.69,460.53 L899.96,461.59 L901.24,462.63 L902.51,463.68 L903.78,464.72 L905.05,465.75 L906.33,466.78 L907.60,467.80 M932.57,486.86 L933.84,487.79 L935.12,488.71 L936.39,489.62 L937.66,490.53 L938.93,491.44 L940.21,492.34 L941.48,493.24 L942.75,494.13 L944.02,495.02 L945.30,495.91 L946.57,496.79 M971.54,513.30 L972.81,514.10 L974.09,514.90 L975.36,515.70 L976.63,516.50 L977.90,517.29 L979.18,518.07 L980.45,518.86 L981.72,519.64 L982.99,520.42 L984.27,521.19 L985.54,521.96 M1010.51,536.49 L1011.78,537.21 L1013.06,537.91 L1014.33,538.62 L1015.60,539.32 L1016.87,540.03 L1018.15,540.72 L1019.42,541.42 L1020.69,542.11 L1021.96,542.80 L1023.24,543.49 L1024.51,544.18 M1049.48,557.16 L1050.75,557.80 L1052.03,558.44 L1053.30,559.07 L1054.57,559.71 L1055.84,560.34 L1057.12,560.97 L1058.39,561.59 L1059.66,562.22 L1060.93,562.84 L1062.21,563.46 L1063.48,564.08 M1088.45,575.84 L1089.72,576.42 L1091.00,577.00 L1092.27,577.58 L1093.54,578.16 L1094.81,578.73 L1096.09,579.31 L1097.36,579.88 L1098.63,580.45 L1099.90,581.01 L1101.18,581.58 L1102.45,582.15 M1127.42,592.91 L1128.69,593.44 L1129.97,593.98 L1131.24,594.51 L1132.51,595.03 L1133.78,595.56 L1135.06,596.09 L1136.33,596.61 L1137.60,597.14 L1138.87,597.66 L1140.15,598.18 L1141.42,598.70 M1166.39,608.59 L1167.66,609.08 L1168.94,609.57 L1170.21,610.06 L1171.48,610.55 L1172.75,611.03 L1174.03,611.51 L1175.30,612.00 L1176.57,612.48 L1177.84,612.95 L1179.12,613.43 L1180.39,613.91 M1205.36,622.98 L1206.63,623.42 L1207.91,623.87 L1209.18,624.31 L1210.45,624.76 L1211.72,625.20 L1213.00,625.64 L1214.27,626.08 L1215.54,626.52 L1216.81,626.95 L1218.09,627.39 L1219.36,627.82 M1244.33,636.01 L1245.60,636.41 L1246.88,636.81 L1248.15,637.20 L1249.42,637.60 L1250.69,637.99 L1251.97,638.39 L1253.24,638.78 L1254.51,639.17 L1255.78,639.55 L1257.06,639.94 L1258.33,640.32" stroke="#008000" stroke-width="3.8" fill="none" stroke-linecap="round" stroke-linejoin="round"/>
<path d="M808.50,368.13 L809.60,369.52 L810.70,370.91 M842.40,407.56 L843.50,408.73 L844.60,409.89 M880.20,444.55 L881.30,445.54 L882.40,446.52 M919.10,476.81 L920.20,477.65 L921.30,478.49 M958.07,504.57 L959.17,505.30 L960.27,506.02 M997.04,528.79 L998.14,529.44 L999.24,530.07 M1036.01,550.27 L1037.11,550.84 L1038.21,551.41 M1074.98,569.58 L1076.08,570.10 L1077.18,570.62 M1113.95,587.18 L1115.05,587.65 L1116.15,588.12 M1152.92,603.32 L1154.02,603.76 L1155.12,604.19 M1191.89,618.15 L1192.99,618.55 L1194.09,618.95 M1230.86,631.66 L1231.96,632.03 L1233.06,632.39" stroke="#008000" stroke-width="3.8" fill="none" stroke-linecap="round" stroke-linejoin="round"/>
<rect x="808.8" y="123.0" width="197.2" height="215.0" fill="#000"/>
<rect x="802.0" y="116.1" width="196.0" height="213.5" fill="#fff" stroke="#2a2a2a" stroke-width="1.4"/>
<path d="M822.9,161.9H899.3" stroke="#000" stroke-width="3.8" fill="none" stroke-linecap="round"/>
<path d="M822.7,209.3H836.2 M853.8,209.3H867.3 M884.9,209.3H898.2" stroke="#f00" stroke-width="3.8" fill="none" stroke-linecap="round"/>
<path d="M822.7,256.5h2.4 M841.5,256.5h2.4 M860,256.5h2.4 M878.6,256.5h2.4 M897.1,256.5h2.4" stroke="#00f" stroke-width="3.8" fill="none" stroke-linecap="round"/>
<path d="M822.7,303.9H838.9 M848.9,303.9h2.4 M861.8,303.9H877.7 M887.8,303.9h2.4" stroke="#008000" stroke-width="3.8" fill="none" stroke-linecap="round"/>
<text transform="translate(908.1,172.9) scale(1,1.03)" font-size="31">MoS<tspan font-size="19" dy="11.6">2</tspan></text>
<text transform="translate(908.1,219.7) scale(1,1.03)" font-size="31">MoSe<tspan font-size="19" dy="11.6">2</tspan></text>
<text transform="translate(909.1,266.7) scale(1,1.03)" font-size="31">WS<tspan font-size="19" dy="11.6">2</tspan></text>
<text transform="translate(909.1,314.5) scale(1,1.03)" font-size="31">WSe<tspan font-size="19" dy="11.6">2</tspan></text>
<rect x="789.1" y="4.5" width="491.1" height="675.4" fill="none" stroke="#000" stroke-width="3.85" stroke-linejoin="round"/>
<line x1="789.1" x2="1280.2" y1="342.2" y2="342.2" stroke="#000" stroke-width="3.85"/>
<path d="M830.1,4.5v4.7 M830.1,679.9v-4.7 M830.1,337.5v9.4 M871.0,4.5v9.5 M871.0,679.9v-9.5 M871.0,332.7v19.0 M912.0,4.5v4.7 M912.0,679.9v-4.7 M912.0,337.5v9.4 M952.9,4.5v9.5 M952.9,679.9v-9.5 M952.9,332.7v19.0 M993.8,4.5v4.7 M993.8,679.9v-4.7 M993.8,337.5v9.4 M1034.7,4.5v9.5 M1034.7,679.9v-9.5 M1034.7,332.7v19.0 M1075.6,4.5v4.7 M1075.6,679.9v-4.7 M1075.6,337.5v9.4 M1116.5,4.5v9.5 M1116.5,679.9v-9.5 M1116.5,332.7v19.0 M1157.5,4.5v4.7 M1157.5,679.9v-4.7 M1157.5,337.5v9.4 M1198.4,4.5v9.5 M1198.4,679.9v-9.5 M1198.4,332.7v19.0 M1239.3,4.5v4.7 M1239.3,679.9v-4.7 M1239.3,337.5v9.4 M789.1,52.7h9.6 M1280.2,52.7h-9.6 M789.1,101.0h4.7 M1280.2,101.0h-4.7 M789.1,149.2h9.6 M1280.2,149.2h-9.6 M789.1,197.4h4.7 M1280.2,197.4h-4.7 M789.1,245.7h9.6 M1280.2,245.7h-9.6 M789.1,293.9h4.7 M1280.2,293.9h-4.7 M789.1,384.4h4.7 M1280.2,384.4h-4.7 M789.1,426.6h9.6 M1280.2,426.6h-9.6 M789.1,468.8h4.7 M1280.2,468.8h-4.7 M789.1,511.0h9.6 M1280.2,511.0h-9.6 M789.1,553.2h4.7 M1280.2,553.2h-4.7 M789.1,595.4h9.6 M1280.2,595.4h-9.6 M789.1,637.6h4.7 M1280.2,637.6h-4.7" stroke="#000" stroke-width="3.85" stroke-linecap="round" fill="none"/>
<text transform="translate(779.5,61.7) scale(1,1.03)" text-anchor="end" font-size="31">0.00</text>
<text transform="translate(779.5,158.2) scale(1,1.03)" text-anchor="end" font-size="31">-0.01</text>
<text transform="translate(779.5,254.7) scale(1,1.03)" text-anchor="end" font-size="31">-0.02</text>
<text transform="translate(779.5,351.2) scale(1,1.03)" text-anchor="end" font-size="31">-0.03</text>
<text transform="translate(779.5,435.6) scale(1,1.03)" text-anchor="end" font-size="31">-0.1</text>
<text transform="translate(779.5,520.0) scale(1,1.03)" text-anchor="end" font-size="31">-0.2</text>
<text transform="translate(779.5,604.4) scale(1,1.03)" text-anchor="end" font-size="31">-0.3</text>
<text transform="translate(779.5,688.8) scale(1,1.03)" text-anchor="end" font-size="31">-0.4</text>
<text transform="translate(789.2,714) scale(1,1.03)" text-anchor="middle" font-size="31">1.0</text>
<text transform="translate(871.0,714) scale(1,1.03)" text-anchor="middle" font-size="31">1.5</text>
<text transform="translate(952.9,714) scale(1,1.03)" text-anchor="middle" font-size="31">2.0</text>
<text transform="translate(1034.7,714) scale(1,1.03)" text-anchor="middle" font-size="31">2.5</text>
<text transform="translate(1116.5,714) scale(1,1.03)" text-anchor="middle" font-size="31">3.0</text>
<text transform="translate(1198.4,714) scale(1,1.03)" text-anchor="middle" font-size="31">3.5</text>
<text transform="translate(1280.2,714) scale(1,1.03)" text-anchor="middle" font-size="31">4.0</text>
<text transform="translate(990.43,749.50) scale(1,1.03)" font-size="28.5">ε</text>
<text transform="translate(1003.64,762.30) scale(1,1.03)" font-size="20.5">m</text>
<text transform="translate(1042.63,749.50) scale(1,1.03)" font-size="28.5">ε</text>
<text transform="translate(1055.80,762.50) scale(1,1.03)" font-size="20.5">0</text>
<text transform="translate(1030.58,749.40) scale(1.03,1.135) scale(1,1.03)" font-size="30">(</text>
<text transform="translate(1069.52,749.40) scale(1.03,1.135) scale(1,1.03)" font-size="30">)</text>
<text transform="translate(681.00,246.42) rotate(-90) scale(0.9,1) scale(1,1.03)" font-size="34.5">Δ</text>
<text transform="translate(681.00,227.23) rotate(-90) scale(1,1.03)" font-size="34.5">E</text>
<text transform="translate(694.20,203.50) rotate(-90) scale(1,1.03)" font-size="21.5">opt</text>
<text transform="translate(681.00,165.14) rotate(-90) scale(1,1.03)" font-size="34.5">(eV)</text>
<text transform="translate(688.60,574.52) rotate(-90) scale(0.9,1) scale(1,1.03)" font-size="34.5">Δ</text>
<text transform="translate(688.60,554.63) rotate(-90) scale(1,1.03)" font-size="34.5">E</text>
<text transform="translate(701.80,532.32) rotate(-90) scale(1,1.03)" font-size="21.5">QP</text>
<text transform="translate(688.60,487.64) rotate(-90) scale(1,1.03)" font-size="34.5">(eV)</text>
<text x="657" y="45.0" font-size="50" font-weight="bold">b</text>
</svg>
</body></html>
